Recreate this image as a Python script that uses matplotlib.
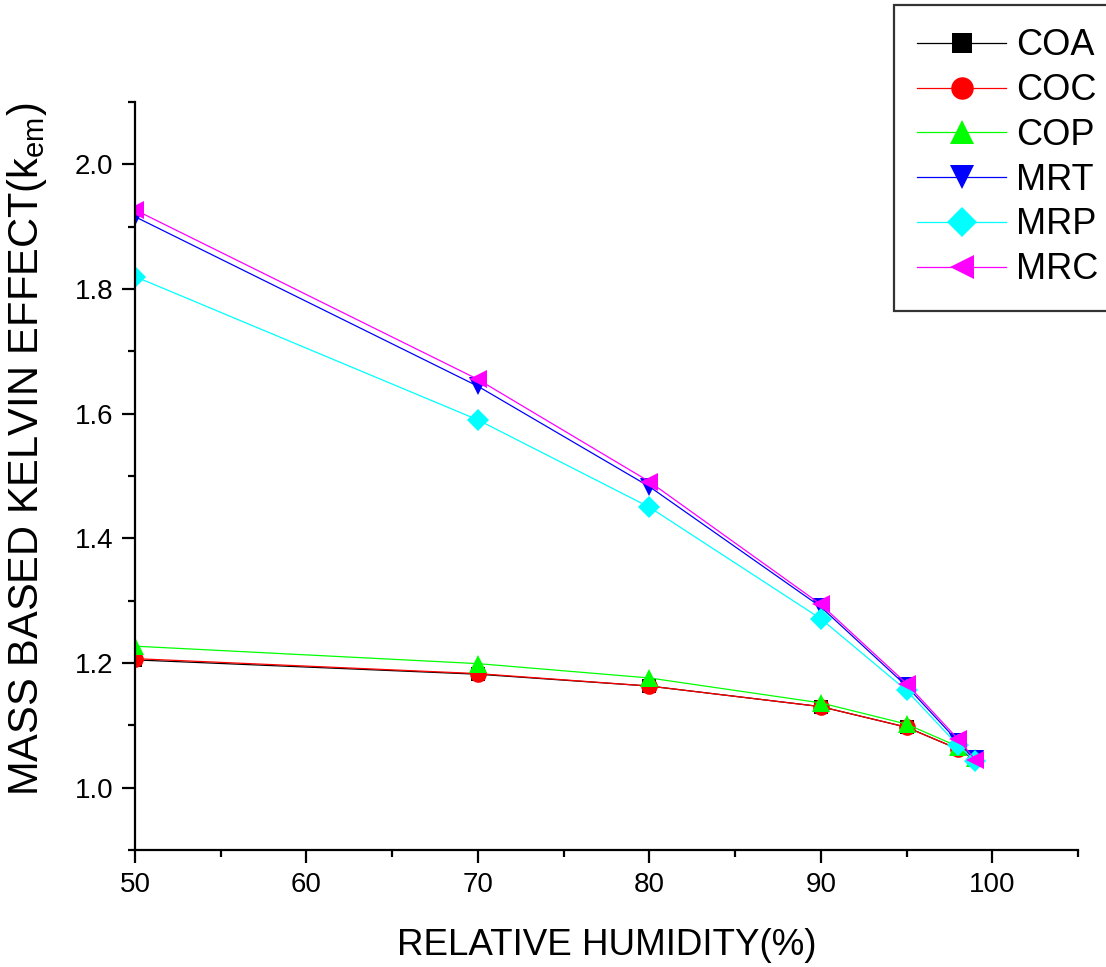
import matplotlib.pyplot as plt
import matplotlib

matplotlib.rcParams['font.family'] = ['Liberation Sans', 'DejaVu Sans']
matplotlib.rcParams['mathtext.fontset'] = 'custom'
matplotlib.rcParams['mathtext.rm'] = 'Liberation Sans'
matplotlib.rcParams['mathtext.it'] = 'Liberation Sans'

# 相对湿度与各组分的质量开尔文效应
rh = [50, 70, 80, 90, 95, 98, 99]
coa = [1.205, 1.182, 1.163, 1.130, 1.097, 1.062, 1.045]
coc = [1.207, 1.183, 1.163, 1.130, 1.097, 1.062, 1.046]
cop = [1.227, 1.199, 1.176, 1.136, 1.102, 1.066, 1.048]
mrt = [1.916, 1.644, 1.483, 1.290, 1.163, 1.074, 1.046]
mrp = [1.820, 1.590, 1.450, 1.271, 1.156, 1.068, 1.043]
mrc = [1.927, 1.655, 1.491, 1.294, 1.167, 1.078, 1.045]

names = ['COA', 'COC', 'COP', 'MRT', 'MRP', 'MRC']
series = [coa, coc, cop, mrt, mrp, mrc]
colors = ['black', 'red', '#00ff00', 'blue', 'cyan', 'magenta']
markers = ['s', 'o', '^', 'v', 'D', '<']
sizes = [10.5, 12, 13, 13, 11, 13]

fig = plt.figure(figsize=(11.06, 9.67), dpi=100)
ax = fig.add_axes([135 / 1106, 1 - 850 / 967, (1078 - 135) / 1106, (850 - 102) / 967])

for y, name, c, m, s in zip(series, names, colors, markers, sizes):
    ax.plot(rh, y, color=c, marker=m, markersize=s, markeredgewidth=0,
            linewidth=0.9, label=name)

ax.set_xlim(50, 105)
ax.set_ylim(0.9, 2.1)
ax.set_xticks([50, 60, 70, 80, 90, 100])
ax.set_xticks([55, 65, 75, 85, 95, 105], minor=True)
ax.set_yticks([1.0, 1.2, 1.4, 1.6, 1.8, 2.0])
ax.set_yticks([0.9, 1.1, 1.3, 1.5, 1.7, 1.9, 2.1], minor=True)
ax.yaxis.set_major_formatter(matplotlib.ticker.FormatStrFormatter('%.1f'))

for side in ['top', 'right']:
    ax.spines[side].set_visible(False)
for side in ['left', 'bottom']:
    ax.spines[side].set_linewidth(1.6)
ax.tick_params(which='major', direction='out', length=9.5, width=1.6, labelsize=20, pad=6)
ax.tick_params(which='minor', direction='out', length=5, width=1.6)

ax.set_xlabel('RELATIVE HUMIDITY(%)', fontsize=26.5, labelpad=22)
ax.set_ylabel(r'MASS BASED KELVIN EFFECT(k$_{\mathrm{em}}$)', fontsize=30)
ax.yaxis.set_label_coords(-0.091, 0.536)

leg = ax.legend(loc='upper left', bbox_to_anchor=(894 / 1106, 1 - 5 / 967),
                bbox_transform=fig.transFigure, fontsize=26, markerscale=1.35,
                frameon=True, fancybox=False, edgecolor='black',
                handlelength=2.45, handletextpad=0.28, labelspacing=0.27,
                borderpad=0.65, borderaxespad=0)
leg.get_frame().set_linewidth(1.6)

plt.savefig('out.png', dpi=100)
